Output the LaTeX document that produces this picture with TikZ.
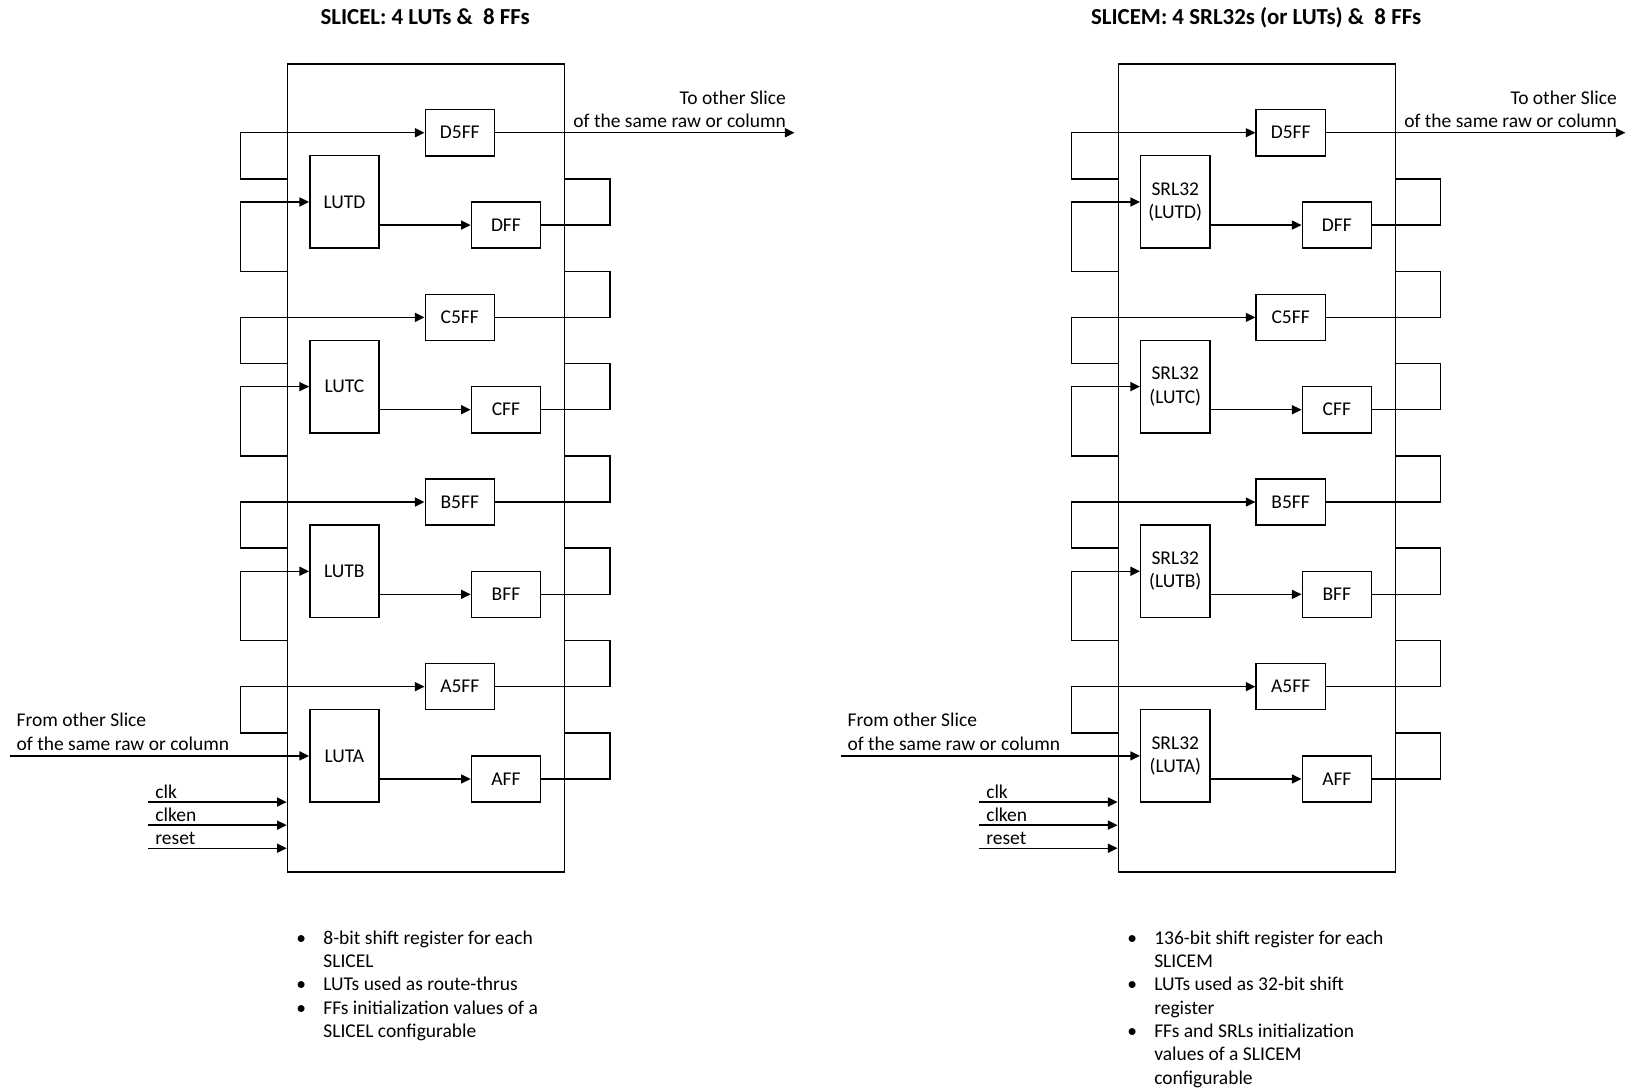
\documentclass[tikz,border=0pt]{standalone}
\usepackage{fontspec}
\setmainfont{Carlito}
\usetikzlibrary{arrows.meta,positioning}

\begin{document}
\begin{tikzpicture}[x=11.54pt, y=-11.54pt, >={Triangle[length=4.8pt,width=4.5pt]}, line width=0.7pt,
  every node/.style={inner sep=0pt, font=\fontsize{9.75}{11.65}\selectfont},
  slice/.style={draw, anchor=north west, minimum width=138.5pt, minimum height=403.9pt},
  ffbox/.style={draw, minimum width=34.6pt, minimum height=23.1pt},
  lutbox/.style={draw, align=center, minimum width=34.6pt, minimum height=46.2pt},
  title/.style={anchor=base, font=\fontsize{11.45}{13.7}\selectfont\bfseries},
  notes/.style={anchor=base west}]
  \useasboundingbox (-12.422,-2.751) rectangle (58.505,44.519);
  \foreach \p/\ox in {slicel/0, slicem/36} {
    \node[slice] (\p) at (\ox,0) {};
    % one LUT with its two flip-flops per row
    \foreach \s/\y in {D/3, C/11, B/19, A/27} {
      \node[ffbox] (\p-ff5\s) at (\ox+7.5,\y) {\s5FF};
      \node[lutbox] (\p-lut\s) at (\ox+2.5,\y+3) {\ifnum\ox=0 LUT\s\else SRL32\\(LUT\s)\fi};
      \node[ffbox] (\p-ff\s) at (\ox+9.5,\y+4) {\s FF};
      \draw[->] (\p-lut\s.east |- \p-ff\s) -- (\p-ff\s);
      \draw[->] (\p.west |- 0,\y+2) -- (\ox-2,\y+2) -- (\ox-2,\y) -- (\p-ff5\s);
      \draw (\p-ff\s) -- (\ox+14,\y+4) -- (\ox+14,\y+2) -- (\p.east |- 0,\y+2);
    }
    \foreach \s/\y in {D/3, C/11, B/19}
      \draw[->] (\p.west |- 0,\y+6) -- (\ox-2,\y+6) -- (\ox-2,\y+3) -- (\p-lut\s);
    \foreach \s/\y in {C/11, B/19, A/27}
      \draw (\p-ff5\s) -- (\ox+14,\y) -- (\ox+14,\y-2) -- (\p.east |- 0,\y-2);
    % chain to and from the other slices
    \coordinate (\p-out) at (\ox+22,3);
    \draw[->] (\p-ff5D) -- (\p-out);
    \node[anchor=south east, align=right] (\p-outtxt) at ([shift={(-0.34,-0.17)}]\p-out) {To other Slice\\of the same raw or column};
    \coordinate (\p-in) at (\ox-12,30);
    \draw[->] (\p-in) -- (\p-lutA);
    \node[anchor=south west, align=left] (\p-intxt) at ([shift={(0.27,-0.21)}]\p-in) {From other Slice\\of the same raw or column};
    \foreach \sig [count=\i] in {clk, clken, reset} {
      \coordinate (\p-\sig) at (\ox-6,31+\i);
      \draw[->] (\p-\sig) -- (\p.west |- 0,31+\i);
      \node[anchor=base west] (\p-\sig-lbl) at ([shift={(0.28,-0.17)}]\p-\sig) {\sig};
    }
  }
  \node[title] (slicel-title) at (6,-1.71) {SLICEL: 4 LUTs \& \ 8 FFs};
  \node[title] (slicem-title) at (42,-1.71) {SLICEM: 4 SRL32s (or LUTs) \& \ 8 FFs};
  \node[notes] (slicel-notes) at (0.39,38.16) {\begin{tabular}[t]{@{}p{13.5pt}@{}l@{}}
    \textbullet & 8-bit shift register for each\\
                & SLICEL\\
    \textbullet & LUTs used as route-thrus\\
    \textbullet & FFs initialization values of a\\
                & SLICEL configurable
  \end{tabular}};
  \node[notes] (slicem-notes) at (36.39,38.16) {\begin{tabular}[t]{@{}p{13.5pt}@{}l@{}}
    \textbullet & 136-bit shift register for each\\
                & SLICEM\\
    \textbullet & LUTs used as 32-bit shift\\
                & register\\
    \textbullet & FFs and SRLs initialization\\
                & values of a SLICEM\\
                & configurable
  \end{tabular}};
\end{tikzpicture}
\end{document}
